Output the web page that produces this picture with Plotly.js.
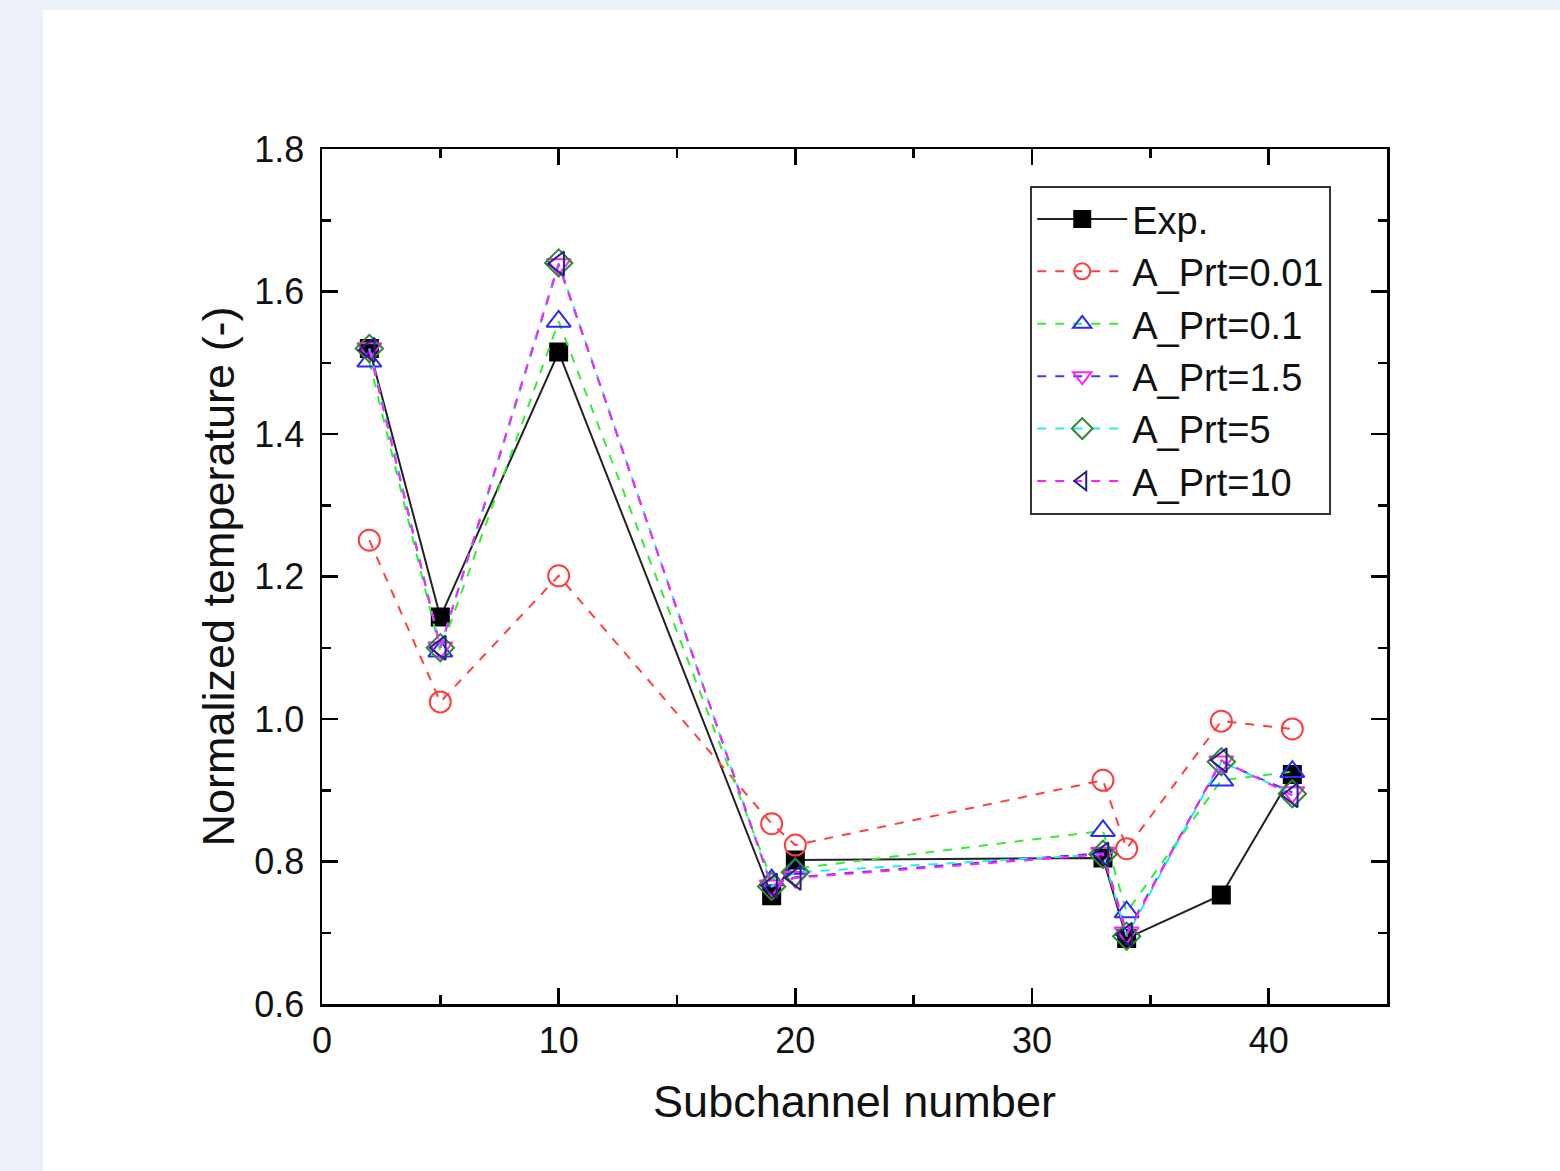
<!DOCTYPE html>
<html>
<head>
<meta charset="utf-8">
<script src="https://cdn.plot.ly/plotly-3.0.1.min.js"></script>
<style>
html,body{margin:0;padding:0;background:#ecf0f8;width:1560px;height:1171px;overflow:hidden;}
#chart{position:absolute;left:43px;top:10px;width:1517px;height:1161px;background:#fff;}
</style>
</head>
<body>
<div id="chart"></div>
<script>
const subchannel = [2, 5, 10, 19, 20, 33, 34, 38, 41];
const expValues   = [1.52, 1.143, 1.515, 0.752, 0.802, 0.805, 0.692, 0.753, 0.922];
const prt001      = [1.251, 1.024, 1.201, 0.853, 0.823, 0.914, 0.818, 0.997, 0.986];
const prt01       = [1.502, 1.095, 1.558, 0.774, 0.790, 0.843, 0.729, 0.914, 0.926];
const prt15       = [1.52, 1.10, 1.638, 0.766, 0.778, 0.812, 0.700, 0.940, 0.897];
const prt5        = [1.52, 1.10, 1.640, 0.765, 0.785, 0.810, 0.695, 0.940, 0.895];
const prt10       = [1.518, 1.100, 1.639, 0.766, 0.777, 0.810, 0.697, 0.942, 0.893];
const seriesNames = ["Exp.", "A_Prt=0.01", "A_Prt=0.1", "A_Prt=1.5", "A_Prt=5", "A_Prt=10"];

const mk = (name, y, lineColor, dash, symbol, mColor, filled) => ({
  x: subchannel, y: y, name: name, type: 'scatter', mode: 'lines+markers',
  line: {color: lineColor, width: 2, dash: dash},
  marker: {symbol: symbol, size: filled ? 17 : 21, color: mColor,
           line: {color: mColor, width: 2}}
});

const traces = [
  mk(seriesNames[0], expValues, '#222222', 'solid', 'square', '#000000', true),
  mk(seriesNames[1], prt001, '#ff4040', 'dash', 'circle-open', '#ff3b3b', false),
  mk(seriesNames[2], prt01, '#33ee33', 'dash', 'triangle-up-open', '#2a2aff', false),
  mk(seriesNames[3], prt15, '#3a3aff', 'dash', 'triangle-down-open', '#ff22ff', false),
  mk(seriesNames[4], prt5, '#22eeee', 'dash', 'diamond-open', '#2e8b2e', false),
  mk(seriesNames[5], prt10, '#ff22ff', 'dash', 'triangle-left-open', '#222288', false)
];

const axisCommon = {
  showline: true, linecolor: '#000', linewidth: 2.5, mirror: 'ticks',
  ticks: 'inside', ticklen: 16, tickwidth: 2.5, tickcolor: '#000',
  showgrid: false, zeroline: false,
  tickfont: {family: 'Liberation Sans, Arial, sans-serif', size: 36, color: '#111'}
};

const layout = {
  width: 1517, height: 1161,
  margin: {l: 279, r: 173, t: 139, b: 167},
  paper_bgcolor: '#ffffff', plot_bgcolor: '#ffffff',
  showlegend: true,
  xaxis: Object.assign({}, axisCommon, {
    range: [0, 45], tickvals: [0, 10, 20, 30, 40], ticktext: ['0','10','20','30','40'],
    ticklabelstandoff: 3,
    minor: {dtick: 5, tick0: 0, ticks: 'inside', ticklen: 9, tickwidth: 2.5, tickcolor: '#000'},
    title: {text: 'Subchannel number', font: {family: 'Liberation Sans, Arial, sans-serif', size: 45, color: '#111'}, standoff: 26}
  }),
  yaxis: Object.assign({}, axisCommon, {
    range: [0.6, 1.8], tickvals: [0.6, 0.8, 1.0, 1.2, 1.4, 1.6, 1.8], tickformat: '.1f',
    ticklabelstandoff: 8,
    minor: {dtick: 0.1, tick0: 0.6, ticks: 'inside', ticklen: 9, tickwidth: 2.5, tickcolor: '#000'},
    title: {text: 'Normalized temperature (-)', font: {family: 'Liberation Sans, Arial, sans-serif', size: 45, color: '#111'}, standoff: 6}
  }),
  legend: {
    x: 0.665, y: 0.957, xanchor: 'left', yanchor: 'top',
    bgcolor: '#ffffff', bordercolor: '#333', borderwidth: 2,
    font: {family: 'Liberation Sans, Arial, sans-serif', size: 38, color: '#111'},
    itemwidth: 90, tracegroupgap: 0
  }
};

Plotly.newPlot('chart', traces, layout, {displayModeBar: false, staticPlot: true});
</script>
</body>
</html>
